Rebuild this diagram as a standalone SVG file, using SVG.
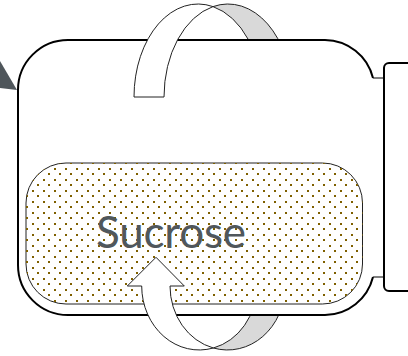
<svg xmlns="http://www.w3.org/2000/svg" width="408" height="356" viewBox="0 0 408 356">
<style>
.outline{fill:none;stroke:#000;stroke-width:2}
.thin{fill:none;stroke:#000;stroke-width:1.2}
.front{fill:#fff;stroke:#222;stroke-width:1}
.back{fill:#d9d9d9;stroke:#222;stroke-width:1}
.dot{fill:#7f6000;shape-rendering:crispEdges}
.label{font-family:Lato,"Liberation Sans",sans-serif;font-size:44px;fill:#50575c}
</style>
<defs>
<pattern id="dots" patternUnits="userSpaceOnUse" x="48" y="173" width="11" height="11">
<rect class="dot" x="0" y="0" width="2" height="2"/>
<rect class="dot" x="6" y="6" width="2" height="2"/>
</pattern>
</defs>
<rect width="408" height="356" fill="#fff"/>
<g id="pointer">
<polygon points="0,61 17,90 0,88" fill="#4f565b"/>
</g>
<g id="arrow-backs">
<path class="back" d="M213,6.6 A64,93 0 0 1 262,97 L292,97 A64,93 0 0 0 213,6.6 Z"/>
<path class="back" d="M213.35,348 A57.5,64 0 0 0 285,286 L256.7,286 A57.5,64 0 0 1 213.35,348 Z"/>
</g>
<g id="container">
<path d="M68,40 H325 A50,50 0 0 1 373,78 H384 V277 H373 A50,50 0 0 1 325,315 H68 A50,50 0 0 1 18,265 V90 A50,50 0 0 1 68,40 Z" fill="#fff"/>
<path class="outline" d="M373,78 A50,50 0 0 0 325,40 H68 A50,50 0 0 0 18,90 V265 A50,50 0 0 0 68,315 H325 A50,50 0 0 0 373,277"/>
<path class="thin" d="M373,78 H384 M373,277 H384"/>
</g>
<g id="panel">
<rect class="outline" x="384" y="63" width="40" height="228" rx="5" fill="#fff"/>
</g>
<g id="sucrose">
<rect x="26" y="163" width="336.5" height="141" rx="40" fill="#fff" stroke="#222" stroke-width="1"/>
<rect x="26" y="163" width="336.5" height="141" rx="40" fill="url(#dots)"/>
<text class="label" x="96" y="248" textLength="150">Sucrose</text>
</g>
<g id="connectors">
<path class="front" d="M134,97 A64,93 0 0 1 213,6.6 A64,93 0 0 0 164,97 Z"/>
<path class="front" d="M156,257.3 L184.3,286 L170,286 A57.5,64 0 0 0 213.35,348 A57.5,64 0 0 1 141.7,286 L127.3,286 Z"/>
</g>
</svg>
